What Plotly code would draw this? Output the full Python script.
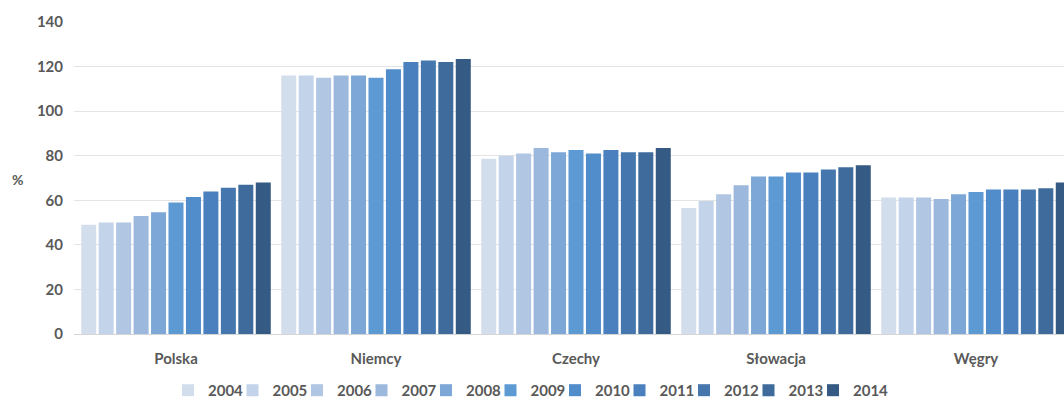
import plotly.graph_objects as go

categories = ["Polska", "Niemcy", "Czechy", "Słowacja", "Węgry"]
years = ["2004", "2005", "2006", "2007", "2008", "2009", "2010", "2011", "2012", "2013", "2014"]

# values per year across categories (Polska, Niemcy, Czechy, Słowacja, Węgry)
v2004 = [49, 116, 78.6, 56.5, 61.3]
v2005 = [50, 116, 80, 59.7, 61.3]
v2006 = [50, 115, 81, 62.7, 61.3]
v2007 = [53, 116, 83.5, 66.7, 60.6]
v2008 = [54.6, 116, 81.6, 70.7, 62.7]
v2009 = [59, 115, 82.6, 70.7, 63.7]
v2010 = [61.5, 118.8, 81, 72.5, 64.8]
v2011 = [63.9, 122, 82.6, 72.5, 64.8]
v2012 = [65.6, 122.7, 81.6, 73.8, 64.8]
v2013 = [67, 122, 81.6, 74.8, 65.4]
v2014 = [68, 123.4, 83.5, 75.7, 68]

series = [v2004, v2005, v2006, v2007, v2008, v2009, v2010, v2011, v2012, v2013, v2014]
colors = ["#d3deed", "#c3d3e9", "#b0c6e3", "#9cb8dc", "#7da7d6", "#5d9ad4",
          "#518ccb", "#4a80bd", "#4576ad", "#3f6b9c", "#355b84"]

FONT = "Lato"
GRAY = "#595959"

W, H = 1064, 401
ML, MR, MT, MB = 74, 0, 22, 67
LEG_X0 = 168      # left edge of first legend entry, px
LEG_STEP = 64.5   # distance between legend entries, px

fig = go.Figure()
legend_layouts = {}
for i, (yr, vals, col) in enumerate(zip(years, series, colors)):
    key = "legend" if i == 0 else f"legend{i + 1}"
    fig.add_trace(go.Bar(name=yr, x=categories, y=vals, legend=key,
                         marker=dict(color=col, line=dict(width=0)),
                         cliponaxis=True))
    legend_layouts[key] = dict(
        orientation="h", xanchor="left", yanchor="top",
        x=(LEG_X0 + LEG_STEP * i - ML) / (W - ML - MR), y=-0.128,
        bgcolor="rgba(0,0,0,0)",
        font=dict(family=FONT, size=15, color=GRAY, weight="bold"))

fig.update_layout(
    width=W, height=H,
    margin=dict(l=ML, r=MR, t=MT, b=MB, autoexpand=False),
    paper_bgcolor="white", plot_bgcolor="white",
    barmode="group", bargap=0.04, bargroupgap=0.14,
    font=dict(family=FONT, size=15, color=GRAY, weight="bold"),
    showlegend=True,
    xaxis=dict(range=[-0.51, 4.44], showgrid=False, showline=False, ticks="",
               automargin=False, ticklabelstandoff=14,
               tickfont=dict(family=FONT, size=15, color=GRAY, weight="bold")),
    yaxis=dict(range=[0, 140], tick0=0, dtick=20, showgrid=True, gridcolor="#e4e4e4",
               gridwidth=1, zeroline=True, zerolinecolor="#d4d4d4", zerolinewidth=1,
               showline=False, ticks="", ticklabelstandoff=10, automargin=False,
               tickfont=dict(family=FONT, size=15, color=GRAY, weight="bold")),
    **legend_layouts,
)

fig.add_annotation(text="%", xref="paper", yref="paper", x=-0.057, y=0.495,
                   xanchor="center", yanchor="middle", showarrow=False,
                   font=dict(family=FONT, size=14, color=GRAY))

fig.write_html("out.html", config={"displayModeBar": False},
               post_script="document.body.style.margin='0';document.body.style.overflow='hidden';")
